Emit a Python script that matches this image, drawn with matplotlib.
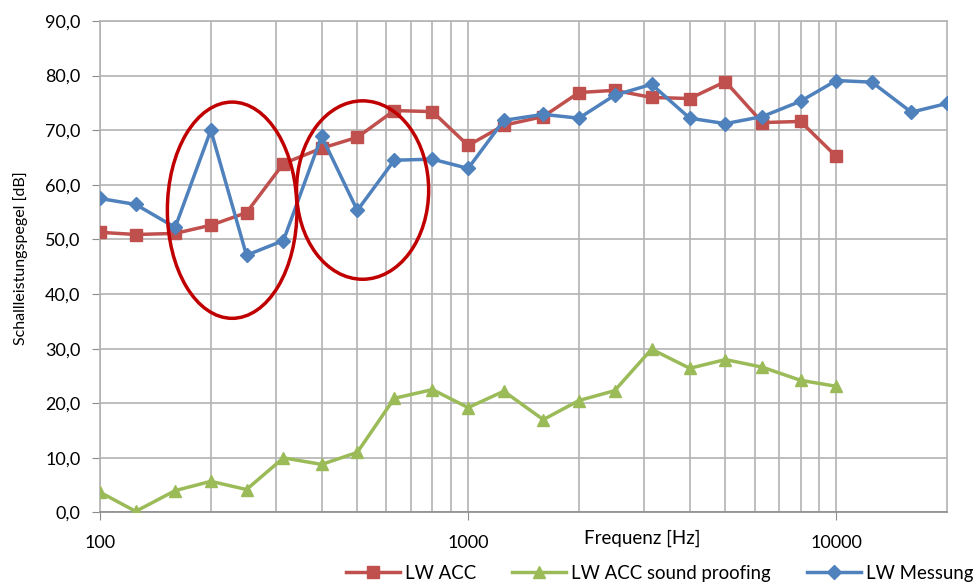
import matplotlib
matplotlib.use("Agg")
import matplotlib.pyplot as plt
from matplotlib.patches import Ellipse
from matplotlib.ticker import FixedLocator, FuncFormatter, NullFormatter

FREQ = [100, 125, 160, 200, 250, 315, 400, 500, 630, 800, 1000, 1250,
        1600, 2000, 2500, 3150, 4000, 5000, 6300, 8000, 10000, 12500,
        16000, 20000]

LW_ACC = [51.3, 50.9, 51.1, 52.6, 54.9, 63.9, 66.7, 68.7, 73.6, 73.4, 67.2,
          70.9, 72.5, 76.9, 77.3, 76.0, 75.8, 78.9, 71.4, 71.6, 65.2]
LW_ACC_PROOF = [3.7, 0.2, 4.0, 5.7, 4.2, 10.0, 8.8, 11.0, 20.9, 22.5, 19.2,
                22.2, 17.0, 20.5, 22.3, 29.9, 26.4, 28.0, 26.6, 24.2, 23.1]
LW_MESSUNG = [57.5, 56.4, 52.2, 70.0, 47.1, 49.8, 68.9, 55.3, 64.5, 64.7,
              63.0, 71.8, 72.9, 72.2, 76.4, 78.4, 72.2, 71.2, 72.5, 75.3,
              79.1, 78.8, 73.3, 74.9]

RED = "#C0504D"
GREEN = "#9BBB59"
BLUE = "#4F81BD"
GRID = "#B3B3B3"

plt.rcParams["font.family"] = ["Lato", "DejaVu Sans"]

fig = plt.figure(figsize=(9.73, 5.83), dpi=100)
ax = fig.add_axes([0.1028, 0.121, 0.8705, 0.843])

n = len(LW_ACC)
ax.plot(FREQ[:n], LW_ACC, color=RED, lw=2.5, marker="s", ms=8,
        label="LW ACC", zorder=3)
ax.plot(FREQ[:n], LW_ACC_PROOF, color=GREEN, lw=2.5, marker="^", ms=9,
        label="LW ACC sound proofing", zorder=3)
ax.plot(FREQ, LW_MESSUNG, color=BLUE, lw=2.5, marker="D", ms=7,
        label="LW Messung", zorder=3)

ax.set_xscale("log")
ax.set_xlim(100, 20000)
ax.set_ylim(0, 90)
ax.set_yticks(range(0, 91, 10))
ax.yaxis.set_major_formatter(FuncFormatter(lambda v, p: f"{v:.1f}".replace(".", ",")))
ax.xaxis.set_major_locator(FixedLocator([100, 1000, 10000]))
ax.xaxis.set_major_formatter(FuncFormatter(lambda v, p: f"{int(v)}"))
minors = [m * d for d in (100, 1000, 10000) for m in range(2, 10) if m * d < 20000]
ax.xaxis.set_minor_locator(FixedLocator(minors))
ax.xaxis.set_minor_formatter(NullFormatter())

ax.grid(True, which="both", axis="x", color=GRID, lw=1.2)
ax.grid(True, which="major", axis="y", color=GRID, lw=1.2)
ax.set_axisbelow(True)
for side in ["top", "right", "left"]:
    ax.spines[side].set_color(GRID)
    ax.spines[side].set_linewidth(1.2)
ax.spines["bottom"].set_color("#8C8C8C")
ax.spines["bottom"].set_linewidth(1.2)
ax.tick_params(axis="y", which="major", length=6, color="#8C8C8C", labelsize=13, pad=8)
ax.tick_params(axis="x", which="major", length=6, color="#8C8C8C", labelsize=13, pad=10)
ax.tick_params(axis="x", which="minor", length=0)

ax.set_ylabel("Schallleistungspegel [dB]", fontsize=11.5)
ax.yaxis.set_label_coords(-0.085, 0.518)
fig.text(0.66, 0.077, "Frequenz [Hz]", ha="center", va="center", fontsize=13.5)

# highlight ellipses (axes fraction)
for cx, cy, w, h in [(0.156, 0.615, 0.153, 0.44), (0.310, 0.656, 0.156, 0.363)]:
    ax.add_patch(Ellipse((cx, cy), w, h, transform=ax.transAxes, fill=False,
                         ec="#C00000", lw=2.5, zorder=4))

fig.legend(loc="center", bbox_to_anchor=(0.678, 0.017), ncol=3, frameon=False,
           fontsize=13.4, handlelength=2.9, handletextpad=0.3,
           columnspacing=1.9, borderaxespad=0)

fig.savefig("out.png", dpi=100)
